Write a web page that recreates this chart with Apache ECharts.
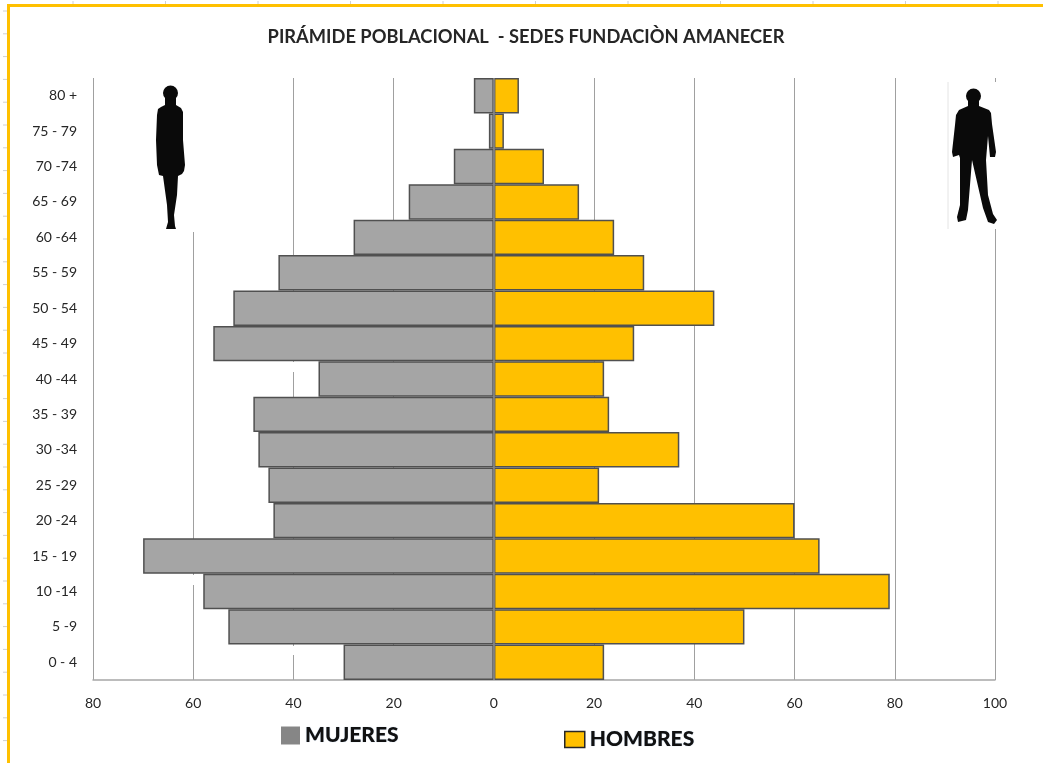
<!DOCTYPE html>
<html>
<head>
<meta charset="utf-8">
<style>html,body{margin:0;padding:0;background:#fff}#c{width:1043px;height:763px}</style>
<script src="https://cdn.jsdelivr.net/npm/echarts@6/dist/echarts.min.js"></script>
</head>
<body>
<div id="c"></div>
<script>
const categories = ['0 - 4','5 -9','10 -14','15 - 19','20 -24','25 -29','30 -34','35 - 39','40 -44','45 - 49','50 - 54','55 - 59','60 -64','65 - 69','70 -74','75 - 79','80 +'];
const mujeres = [30,53,58,70,44,45,47,48,35,56,52,43,28,17,8,1,4];
const hombres = [22,50,79,65,60,21,37,23,22,28,44,30,24,17,10,2,5];
const titleText = 'PIRÁMIDE POBLACIONAL  - SEDES FUNDACIÒN AMANECER';

const font = 'Lato, "Open Sans", sans-serif';
const womanBody = [[165,98],[176,98],[176,105],[181,108],[183,112],[183,140],[185,165],[184,171],[182,174],[178,176],[177,195],[174,215],[175,226],[176,229],[166,229],[168,222],[167,205],[163,176],[159,175],[157,165],[156,140],[157,115],[158,109],[161,107],[165,105]];
const manBody = [[968,98],[979,98],[979,106],[989,110],[991,113],[992,124],[996,152],[995,157],[990,157],[988,136],[986,160],[988,195],[993,214],[997,220],[994,224],[988,222],[983,208],[972,160],[970,185],[968,210],[966,220],[958,222],[957,217],[960,205],[960,158],[959,155],[953,157],[952,152],[955,125],[956,115],[959,110],[968,106]];

const graphics = [
  {type:'rect', z:10, silent:true, shape:{x:190,y:76,width:6,height:156}, style:{fill:'#fff'}},
  {type:'rect', z:1, silent:true, shape:{x:190,y:575,width:6,height:10}, style:{fill:'#fff'}},
  {type:'rect', z:1, silent:true, shape:{x:290,y:646,width:6,height:9}, style:{fill:'#fff'}},
  {type:'rect', z:1, silent:true, shape:{x:290,y:362,width:6,height:10}, style:{fill:'#fff'}},
  {type:'rect', z:10, silent:true, shape:{x:992,y:82,width:6,height:147}, style:{fill:'#fff'}},
  {type:'line', z:11, silent:true, shape:{x1:948,y1:82,x2:948,y2:229}, style:{stroke:'#e4e4e4',lineWidth:1}},
  {type:'polygon', z:11, silent:true, shape:{points:womanBody}, style:{fill:'#0a0a0a'}},
  {type:'circle', z:11, silent:true, shape:{cx:170.5,cy:93,r:7.5}, style:{fill:'#0a0a0a'}},
  {type:'polygon', z:11, silent:true, shape:{points:manBody}, style:{fill:'#0a0a0a'}},
  {type:'circle', z:11, silent:true, shape:{cx:973.5,cy:96,r:7.5}, style:{fill:'#0a0a0a'}},
  {type:'rect', z:12, silent:true, shape:{x:7,y:4,width:1036,height:3}, style:{fill:'#ffc000'}},
  {type:'rect', z:12, silent:true, shape:{x:7,y:4,width:3,height:759}, style:{fill:'#ffc000'}}
];
for (let i = 0; i < 11; i++) {
  const tx = 73 + i * 92.5;
  graphics.push({type:'line', z:11, silent:true, shape:{x1:tx,y1:1,x2:tx,y2:4}, style:{stroke:'#d0d0d0',lineWidth:1}});
}
for (let i = 0; i < 33; i++) {
  const ty = 11 + i * 22.8;
  graphics.push({type:'line', z:11, silent:true, shape:{x1:3,y1:ty,x2:7,y2:ty}, style:{stroke:'#d0d0d0',lineWidth:1}});
}
const legendText = {fontFamily:font,fontSize:21,fontWeight:900,color:'#111',textShadowColor:'rgba(60,110,170,0.45)',textShadowBlur:1};
const chart = echarts.init(document.getElementById('c'), null, {renderer:'canvas'});
chart.setOption({
  animation:false,
  backgroundColor:'#fff',
  title:{text:titleText,left:521,top:23,textAlign:'center',textStyle:{fontFamily:font,fontSize:18.3,fontWeight:'bold',color:'#262626'}},
  legend:[
    {data:[{name:'MUJERES',icon:'rect',itemStyle:{color:'#868686',borderWidth:0}}],left:276,top:720,itemWidth:19,itemHeight:18,itemGap:3,selectedMode:false,textStyle:legendText},
    {data:[{name:'HOMBRES',icon:'rect',itemStyle:{color:'#ffc000',borderColor:'#262626',borderWidth:1.5}}],left:559,top:724,itemWidth:20,itemHeight:16,itemGap:3,selectedMode:false,textStyle:legendText}
  ],
  grid:{left:93,right:48,top:78,bottom:83,containLabel:false},
  xAxis:{type:'value',min:-80,max:100,interval:20,
    axisLine:{show:true,lineStyle:{color:'#a6a6a6',width:1.5}},axisTick:{show:false},
    splitLine:{show:true,lineStyle:{color:'#a0a0a0',width:1}},
    axisLabel:{margin:16,fontFamily:font,fontSize:14,color:'#262626',formatter:v=>String(Math.abs(v))}},
  yAxis:{type:'category',data:categories,
    axisLine:{show:false,onZero:false},axisTick:{show:false},
    axisLabel:{margin:16,fontFamily:font,fontSize:14,color:'#262626',interval:0}},
  graphic:graphics,
  series:[
    {name:'MUJERES',type:'bar',stack:'p',barCategoryGap:'0%',data:mujeres.map(v=>-v),
      itemStyle:{color:'#a5a5a5',borderColor:'#505050',borderWidth:1.5}},
    {name:'HOMBRES',type:'bar',stack:'p',barCategoryGap:'0%',data:hombres,
      itemStyle:{color:'#ffc000',borderColor:'#505050',borderWidth:1.5},
      markLine:{silent:true,symbol:'none',label:{show:false},lineStyle:{color:'#8a8a8a',type:'solid',width:1.5},data:[{xAxis:0}]}}
  ]
});
</script>
</body>
</html>
